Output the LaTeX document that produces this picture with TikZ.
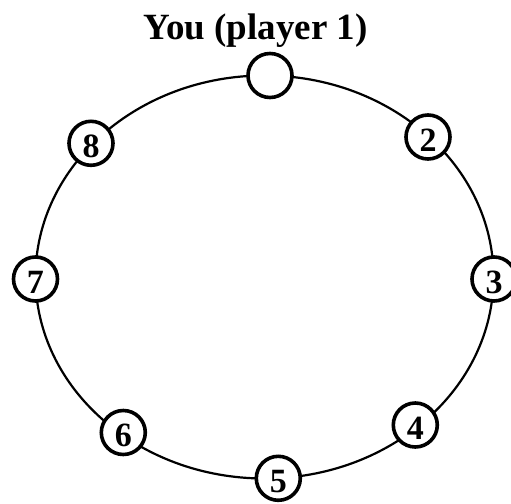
\documentclass[tikz,border=0pt]{standalone}
\usepackage{fontspec}
\setmainfont{Liberation Serif}
\begin{document}
\begin{tikzpicture}[x=1pt,y=-1pt,
  player/.style={draw,circle,fill=white,line width=3.6pt,minimum size=44pt,inner sep=0pt,text height=28pt,text depth=0pt,font=\fontsize{34}{34}\selectfont\bfseries},
  ring/.style={line width=2.2pt}]
\useasboundingbox (0,0) rectangle (511,503);
\draw[ring] (264.5,277) ellipse [x radius=229pt, y radius=201.5pt];
\node[anchor=base,font=\fontsize{37}{37}\selectfont\bfseries] (title) at (255.5,39.5) {You (player 1)};
\node[player] (p1) at (270,75.5) {};
\node[player] (p2) at (428,137) {2};
\node[player] (p3) at (494,279) {3};
\node[player] (p4) at (415.3,425) {4};
\node[player] (p5) at (278.3,478.3) {5};
\node[player] (p6) at (123.3,432.5) {6};
\node[player] (p7) at (35.5,279) {7};
\node[player] (p8) at (91,143.3) {8};
\end{tikzpicture}
\end{document}
